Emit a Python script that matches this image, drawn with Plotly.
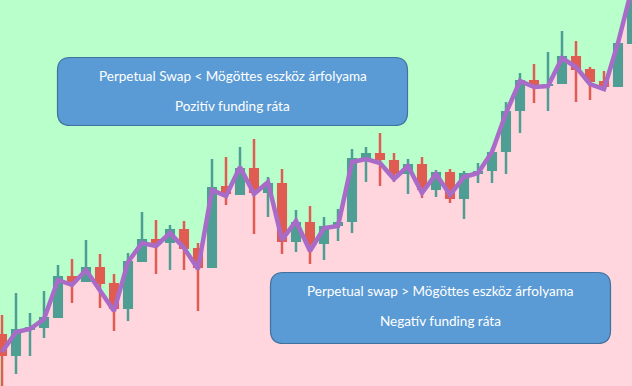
import plotly.graph_objects as go

# ---- data (candles indexed 1..46) ----
idx = list(range(1, 47))
opens = [66, 44, 70, 72, 82, 124, 118, 133, 117, 91, 138, 161, 157, 171, 152, 132,
         214, 205, 232, 207, 217, 158, 178, 156, 174, 178, 242, 247, 240, 226, 236,
         210, 228, 201, 226, 229, 248, 289, 320, 314, 316, 344, 331, 319, 313, 356]
closes = [44, 71, 73, 83, 124, 118, 133, 116, 91, 139, 161, 155, 171, 151, 132, 213,
          206, 232, 207, 217, 158, 178, 156, 174, 178, 242, 247, 240, 226, 236, 210,
          228, 201, 227, 229, 248, 289, 320, 314, 316, 344, 330, 318, 313, 357, 410]
highs = [85, 107, 87, 109, 135, 141, 160, 146, 126, 147, 188, 180, 175, 179, 157, 241,
         243, 253, 261, 223, 231, 190, 194, 183, 191, 251, 253, 267, 247, 241, 243,
         230, 231, 229, 237, 252, 298, 327, 336, 348, 369, 359, 333, 329, 359, 420]
lows = [8, 26, 44, 62, 82, 97, 118, 92, 69, 79, 138, 126, 130, 130, 89, 132,
        195, 205, 166, 183, 146, 148, 136, 140, 159, 167, 218, 214, 218, 206, 202,
        203, 197, 181, 217, 217, 226, 267, 297, 289, 316, 298, 300, 313, 313, 356]
trend = [48, 68, 71, 81, 120, 115, 130, 110, 89, 138, 157, 154, 167, 152, 131, 210,
         204, 233, 206, 218, 160, 179, 149, 172, 174, 238, 241, 237, 221, 234, 207,
         226, 205, 223, 227, 248, 287, 319, 313, 314, 342, 333, 316, 311, 357, 412]

box1_lines = ["Perpetual Swap < Mögöttes eszköz árfolyama", "Pozitív funding ráta"]
box2_lines = ["Perpetual swap > Mögöttes eszköz árfolyama", "Negatív funding ráta"]

# ---- styles ----
W, H = 632, 386
GREEN_BG = "#B8FFCB"
PINK_BG = "#FFD5DE"
UP = "#4E9E94"
DOWN = "#E05C52"
PURPLE = "#A86CC8"
BOX_FILL = "#5B9BD5"
BOX_LINE = "#41719C"
XR = [1 - 2 / 14, 1 - 2 / 14 + W / 14]
YR = [14, 400]

fig = go.Figure()

# pink area under the trend line (bottom subplot)
fig.add_trace(go.Scatter(x=idx, y=trend, mode="lines", line=dict(width=0),
                         fill="tozeroy", fillcolor=PINK_BG, hoverinfo="skip",
                         xaxis="x", yaxis="y"))

# bodies (overlay subplot, drawn above the fill)
body_col = [UP if c >= o else DOWN for o, c in zip(opens, closes)]
fig.add_trace(go.Bar(x=idx, y=[c - o for o, c in zip(opens, closes)], base=opens,
                     width=0.72, marker=dict(color=body_col, line=dict(width=0)),
                     xaxis="x2", yaxis="y2"))

# wicks
for col, cond in ((UP, True), (DOWN, False)):
    wx, wy = [], []
    for i, o, c, h, l in zip(idx, opens, closes, highs, lows):
        if (c >= o) == cond:
            wx += [i, i, None]
            wy += [l, h, None]
    fig.add_trace(go.Scatter(x=wx, y=wy, mode="lines",
                             line=dict(color=col, width=2.5), hoverinfo="skip",
                             xaxis="x2", yaxis="y2"))

# trend line
fig.add_trace(go.Scatter(x=idx, y=trend, mode="lines",
                         line=dict(color=PURPLE, width=4.5),
                         xaxis="x2", yaxis="y2"))


def px2paper(x, y):
    return x / W, 1 - y / H


def rounded_path(x0, y0, x1, y1, r):
    def P(x, y):
        X, Y = px2paper(x, y)
        return f"{X:.5f},{Y:.5f}"
    return (f"M {P(x0 + r, y0)} L {P(x1 - r, y0)} Q {P(x1, y0)} {P(x1, y0 + r)} "
            f"L {P(x1, y1 - r)} Q {P(x1, y1)} {P(x1 - r, y1)} "
            f"L {P(x0 + r, y1)} Q {P(x0, y1)} {P(x0, y1 - r)} "
            f"L {P(x0, y0 + r)} Q {P(x0, y0)} {P(x0 + r, y0)} Z")


boxes = [((57.5, 57.5, 407.5, 125.5), box1_lines, (75.5, 106)),
         ((270.5, 272.5, 610.5, 343.5), box2_lines, (290.5, 321))]
for (x0, y0, x1, y1), lines, ys in boxes:
    fig.add_shape(type="path", path=rounded_path(x0, y0, x1, y1, 13),
                  xref="paper", yref="paper", fillcolor=BOX_FILL,
                  line=dict(color=BOX_LINE, width=1.2), layer="above")
    cx = (x0 + x1) / 2
    for txt, ty in zip(lines, ys):
        X, Y = px2paper(cx, ty)
        fig.add_annotation(x=X, y=Y, xref="paper", yref="paper", text=txt,
                           showarrow=False, xanchor="center", yanchor="middle",
                           font=dict(family="Lato", size=13.5, color="white"))

fig.update_layout(
    width=W, height=H, margin=dict(l=0, r=0, t=0, b=0),
    paper_bgcolor=GREEN_BG, plot_bgcolor=GREEN_BG, showlegend=False,
    xaxis=dict(visible=False, range=XR),
    yaxis=dict(visible=False, range=YR),
    xaxis2=dict(visible=False, range=XR, overlaying="x", anchor="y2"),
    yaxis2=dict(visible=False, range=YR, overlaying="y", anchor="x2"),
)

fig.write_html("out.html", config={"displayModeBar": False},
               post_script="document.body.style.margin='0';"
                           "document.body.style.overflow='hidden';")
